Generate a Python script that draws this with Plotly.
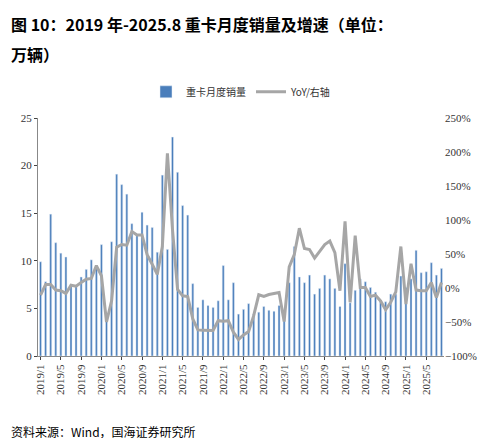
import plotly.graph_objects as go

months = [f"{y}/{m}" for y in range(2019, 2026) for m in range(1, 13)][:80]
sales = [9.9,7.8,14.9,11.9,10.8,10.4,7.5,7.4,8.3,9.1,10.1,9.5,
         11.7,4.5,12.0,19.1,18.0,17.0,13.9,12.7,15.1,13.75,13.5,10.9,
         19.0,11.2,23.0,19.3,15.8,14.8,7.6,5.1,5.9,5.3,5.1,5.8,
         9.5,5.9,7.7,4.4,4.9,5.5,4.4,4.6,5.2,4.8,4.7,5.3,
         3.9,7.7,11.5,8.3,7.7,8.5,6.5,7.1,8.5,8.1,7.1,5.2,
         9.7,5.6,6.9,8.1,7.8,7.2,6.7,5.8,5.7,6.5,6.5,8.4,
         7.2,8.1,11.1,8.75,8.85,9.8,8.5,9.2]
yoy = [-10.5,5,5,-3,-4,-8,4,2.6,8,13,14,33,
       18,-50,-19,60,64,63,83,78,78,49,35,20,
       61,198,86,-2,-11.5,-12.5,-45.5,-61.6,-62,-62,-62.5,-48,
       -49,-48,-65,-75.7,-69,-64,-40.7,-10,-12.5,-9.6,-7.6,-6.7,
       -49.4,31,49,88,58,56.5,44,54,64,69,52,-4,
       98,-21,77,0.6,0.6,-12.5,-10.5,-19,-32,-21,-5.7,61,
       -23.7,35.6,-3,-4,-4,8,-14,8]
ticks = months[::4]

fig = go.Figure()
fig.add_bar(x=months, y=sales, name="重卡月度销量", marker_color="#4a7ebb", width=0.4)
fig.add_scatter(x=months, y=yoy, name="YoY/右轴", yaxis="y2", mode="lines",
                line=dict(color="#a6a6a6", width=3))
font = "Noto Sans CJK SC"
fig.update_layout(
    width=498, height=438, margin=dict(l=30, r=62, t=110, b=90),
    plot_bgcolor="white", paper_bgcolor="white",
    font=dict(family="Liberation Serif", size=11, color="#333"),
    showlegend=True, bargap=0.5,
    legend=dict(orientation="h", x=0.5, xanchor="center", y=1.11, yanchor="middle",
                font=dict(family=font, size=10)),
    xaxis=dict(type="category", tickvals=ticks, ticktext=ticks, tickangle=-90,
               showline=True, linecolor="#888", ticks="outside", ticklen=3,
               tickfont=dict(size=11)),
    yaxis=dict(range=[0, 25], dtick=5, showgrid=False, showline=True, linecolor="#888",
               ticks="outside", ticklen=3),
    yaxis2=dict(overlaying="y", side="right", range=[-100, 250], dtick=50,
                ticksuffix="%", showgrid=False, showline=False),
    annotations=[
        dict(text="<b>图 10：2019 年-2025.8 重卡月度销量及增速（单位：</b>", x=0, y=1,
             xref="paper", yref="paper", xanchor="left", yanchor="top", showarrow=False,
             font=dict(family=font, size=16, color="#000"), xshift=-29, yshift=108),
        dict(text="<b>万辆）</b>", x=0, y=1, xref="paper", yref="paper", xanchor="left",
             yanchor="top", showarrow=False, font=dict(family=font, size=16, color="#000"),
             xshift=-29, yshift=78),
        dict(text="资料来源：Wind，国海证券研究所", x=0, y=0, xref="paper", yref="paper",
             xanchor="left", yanchor="bottom", showarrow=False,
             font=dict(family=font, size=12, color="#000"), xshift=-29, yshift=-86),
    ],
)
fig.write_html("out.html")
